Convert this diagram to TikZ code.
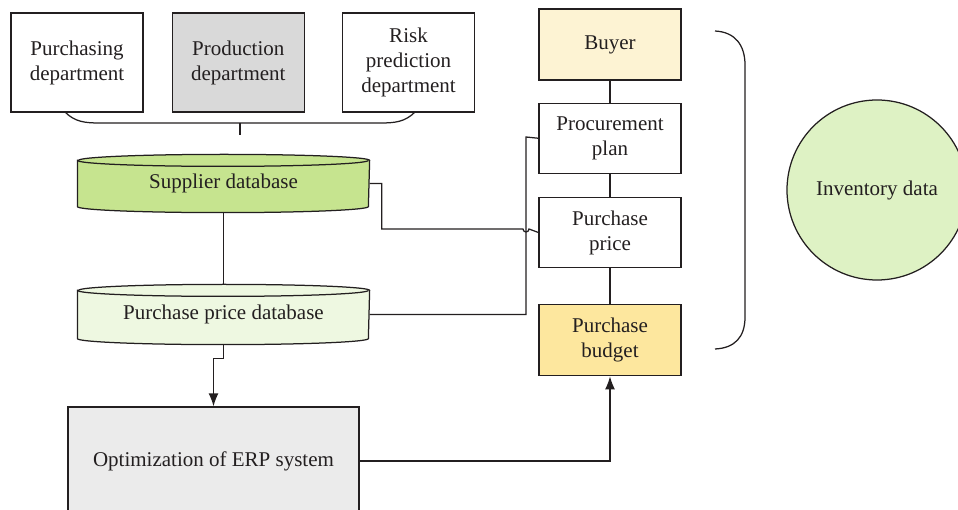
\documentclass[tikz,border=0pt]{standalone}
\usepackage{fontspec}
\setmainfont{Liberation Serif}
\usetikzlibrary{positioning,calc,arrows.meta}
\definecolor{ink}{HTML}{231F20}
\definecolor{dbgreen}{HTML}{C6E48F}
\definecolor{dblight}{HTML}{EEF8E1}
\definecolor{invgreen}{HTML}{DEF2C4}
\definecolor{buyercol}{HTML}{FDF3D3}
\definecolor{budgetcol}{HTML}{FDE79E}
\definecolor{prodgrey}{HTML}{D9D9D9}
\definecolor{erpgrey}{HTML}{EBEBEB}

\tikzset{
  dept/.style={draw=ink, text=ink, align=center, minimum width=132pt, minimum height=99pt, inner sep=2pt},
  flowbox/.style={draw=ink, text=ink, align=center, minimum width=142pt, minimum height=70pt, inner sep=2pt},
  dbtext/.style={text=ink, minimum width=291pt, inner sep=0pt},
  arr/.style={-{Latex[length=13pt,width=10pt]}}
}
% cylinder around a database node: node, fill colour
\newcommand{\dbcyl}[2]{%
  \draw[fill=#2] ([yshift=-6pt]#1.north west) -- ([yshift=6pt]#1.south west)
    arc[start angle=180, end angle=360, x radius=145.5pt, y radius=6pt]
    -- ([yshift=-6pt]#1.north east)
    arc[start angle=0, end angle=180, x radius=145.5pt, y radius=6pt] -- cycle;
  \draw ([yshift=-6pt]#1.north west)
    arc[start angle=180, end angle=360, x radius=145.5pt, y radius=6pt];}

\begin{document}
\begin{tikzpicture}[x=1pt, y=-1pt, line width=1.25pt, color=ink,
    font=\fontsize{21}{25}\selectfont]
  \useasboundingbox (0,0) rectangle (958,510);
  \clip (0,0) rectangle (958,510);

  % departments
  \node[dept] (purch) at (77,62.5) {Purchasing\\department};
  \node[dept, fill=prodgrey, right=28pt of purch] (prod) {Production\\department};
  \node[dept, right=37pt of prod] (risk) {Risk\\prediction\\department};
  \draw (65,112) .. controls (75,122) and (85,123) .. (100,123) -- (380,123)
    .. controls (395,123) and (405,122) .. (415,112);
  \draw (240,123) -- (240,135);

  % databases
  \node[dbtext, minimum height=57pt] (sdb) at (223.5,183.5) {};
  \dbcyl{sdb}{dbgreen}
  \node[text=ink] at (sdb) {Supplier database};
  \node[dbtext, minimum height=59pt] (pdb) at (223.5,314.5) {};
  \dbcyl{pdb}{dblight}
  \node[text=ink] at (pdb) {Purchase price database};

  \node[draw=ink, fill=erpgrey, text=ink, minimum width=291pt, minimum height=108pt] (erp) at (213.5,461) {Optimization of ERP system};

  % right column
  \node[flowbox, fill=buyercol, minimum height=71pt] (buyer) at (610,44.5) {Buyer};
  \node[flowbox, below=22pt of buyer] (plan) {Procurement\\plan};
  \node[flowbox, below=23pt of plan] (price) {Purchase\\price};
  \node[flowbox, fill=budgetcol, minimum height=71pt, below=36pt of price] (budget) {Purchase\\budget};

  \node[circle, draw=ink, fill=invgreen, text=ink, minimum size=180pt] (inv) at (877,190) {Inventory data};

  % connectors
  \draw (buyer) -- (plan);
  \draw (plan) -- (price);
  \draw (price) -- (budget);
  \draw (sdb) -- (pdb);
  \draw (pdb.east) -| (526,137) -- (plan.west);
  \draw (sdb.east) -- ++(12,0) |- (523,229)
    arc[start angle=180, end angle=360, radius=3pt] -- (price.west);
  \draw[arr] (pdb.south) -- ++(0,14) -| (erp.north);
  \draw[arr] (erp.east) -| (budget.south);

  % brace
  \draw (715,31) .. controls (735,32) and (745,45) .. (745,65) -- (745,317)
    .. controls (745,337) and (735,348) .. (715,349);
\end{tikzpicture}
\end{document}
